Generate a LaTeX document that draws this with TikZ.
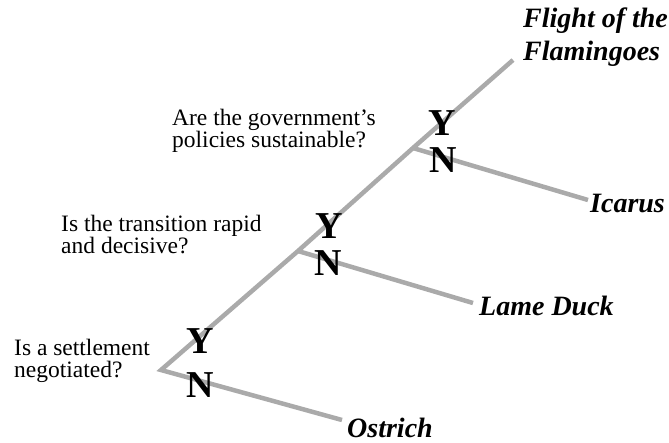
\documentclass[tikz,border=0pt]{standalone}
\usepackage{fontspec}
\setmainfont{Liberation Serif}
\begin{document}
\begin{tikzpicture}[x=1pt,y=-1pt,
  branch/.style={draw={rgb,255:red,170;green,170;blue,170},line width=4.5pt,line join=miter},
  question/.style={anchor=base west,inner sep=0pt,align=left,font=\fontsize{23.5}{21.5}\selectfont},
  yn/.style={anchor=base,inner sep=0pt,font=\fontsize{38}{38}\selectfont\bfseries},
  outcome/.style={anchor=base west,inner sep=0pt,align=left,font=\fontsize{28}{33}\selectfont\bfseries\itshape}]
\useasboundingbox (0,0) rectangle (669,442);
% branch points and free ends
\coordinate (n1) at (161,370);
\coordinate (n2) at (298,251);
\coordinate (n3) at (413,148);
\coordinate (eTop) at (513,60);
\coordinate (eIcarus) at (588,200);
\coordinate (eDuck) at (473,303);
\coordinate (eOstrich) at (342,420);
% connectors
\draw[branch] (eOstrich) -- (n1) -- (n2) -- (n3) -- (eTop);
\draw[branch] (n3) -- (eIcarus);
\draw[branch] (n2) -- (eDuck);
% questions (anchor = baseline of last line)
\node[question] (q1) at (14,377) {Is a settlement\\negotiated?};
\node[question] (q2) at (61,253) {Is the transition rapid\\and decisive?};
\node[question] (q3) at (172,147) {Are the government’s\\policies sustainable?};
% Y / N
\node[yn] (y1) at (200,353) {Y};
\node[yn] (no1) at (200,397) {N};
\node[yn] (y2) at (329,238) {Y};
\node[yn] (no2) at (328,275) {N};
\node[yn] (y3) at (442,135) {Y};
\node[yn] (no3) at (443,172) {N};
% outcomes
\node[outcome] (flight) at (523,60) {Flight of the\\Flamingoes};
\node[outcome] (icarus) at (590,212) {Icarus};
\node[outcome] (duck) at (479,315) {Lame Duck};
\node[outcome] (ostrich) at (347,437) {Ostrich};
\end{tikzpicture}
\end{document}
